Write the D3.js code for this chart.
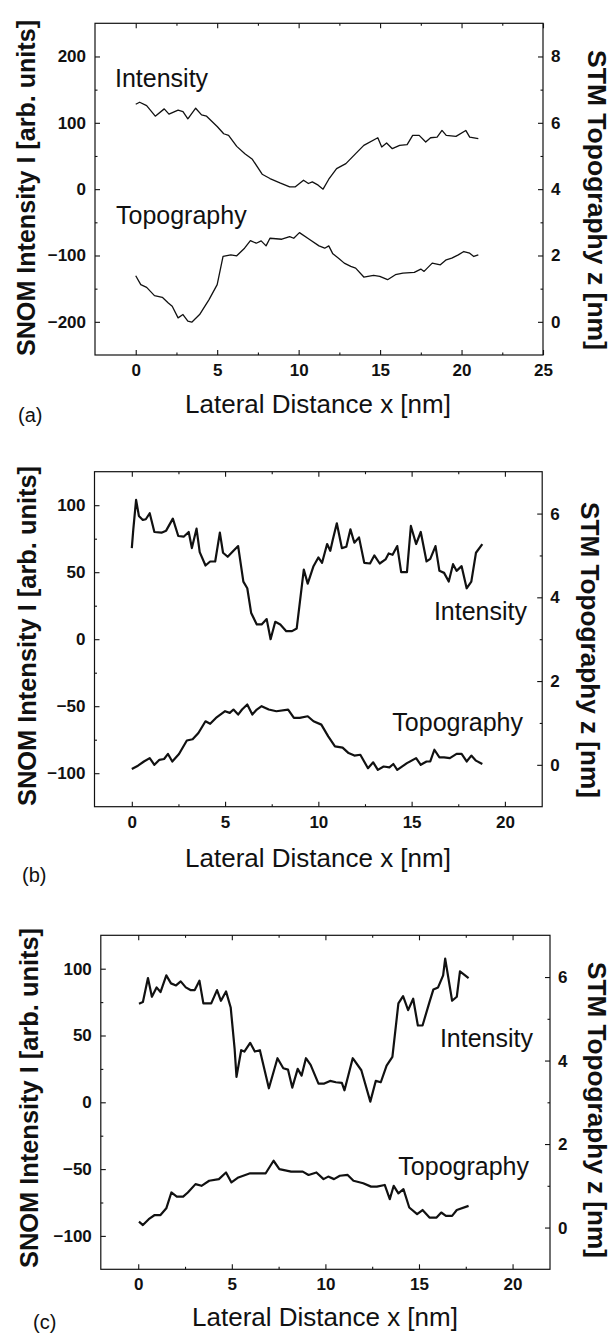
<!DOCTYPE html>
<html>
<head>
<meta charset="utf-8">
<script src="https://cdn.jsdelivr.net/npm/d3@7"></script>
<style>
  body { margin: 0; background: #fff; }
  svg { display: block; }
</style>
</head>
<body>
<div class="snom-chart"></div>
<script>
// ---- data ----
// (a)
const xA_int = [0, 0.24, 0.67, 1.2, 1.75, 2.04, 2.6, 2.9, 3.2, 3.68, 4.04, 4.35, 5, 5.4, 5.7, 6.2, 6.7, 7.16, 7.76, 8.24, 8.85, 9.45, 9.8, 10.3, 10.6, 10.84, 11.2, 11.5, 11.85, 12.33, 12.9, 13.5, 14, 14.86, 15.1, 15.4, 15.75, 16.2, 16.66, 17.0, 17.4, 17.8, 18.1, 18.5, 18.8, 19.06, 19.66, 20.26, 20.5, 21.03]
const intensityA = [128, 131, 126, 110, 121, 113, 119, 117, 106, 122, 112, 110, 94.5, 83.5, 81, 64.5, 53.5, 45, 22.5, 16, 9.5, 3.5, 3.5, 13.5, 8.5, 11, 6, 0, 15, 31, 38.5, 53.5, 66, 77.5, 63.5, 69.5, 61, 66, 67, 81, 81, 71, 77.5, 78.5, 88.5, 81, 79.5, 88.5, 78.5, 76]
const xA_topo = [0, 0.31, 0.67, 1.15, 1.63, 2.0, 2.24, 2.6, 2.9, 3.2, 3.44, 3.92, 4.5, 5.0, 5.36, 5.84, 6.2, 6.68, 7.04, 7.4, 7.7, 8.0, 8.24, 8.97, 9.45, 9.7, 10.05, 10.65, 11.25, 11.6, 11.85, 12.1, 12.45, 12.8, 13.2, 13.5, 14.0, 14.6, 14.98, 15.46, 15.94, 16.4, 17.1, 17.5, 17.7, 18.2, 18.7, 19.06, 19.4, 19.8, 20.14, 20.5, 20.75, 21.03]
const topoA = [1.39, 1.12, 1.04, 0.79, 0.74, 0.57, 0.47, 0.12, 0.22, 0.02, -0.01, 0.22, 0.67, 1.12, 1.97, 2.02, 1.99, 2.22, 2.45, 2.37, 2.44, 2.29, 2.52, 2.49, 2.57, 2.52, 2.69, 2.49, 2.29, 2.22, 2.29, 2.05, 1.92, 1.77, 1.67, 1.62, 1.35, 1.4, 1.37, 1.27, 1.42, 1.47, 1.49, 1.59, 1.52, 1.77, 1.72, 1.87, 1.92, 2.02, 2.12, 2.07, 1.97, 2.02]

// (b)
const xB_int = [0, 0.08, 0.23, 0.38, 0.59, 0.75, 0.96, 1.21, 1.59, 1.84, 2.2, 2.49, 2.78, 3.05, 3.22, 3.47, 3.64, 3.95, 4.2, 4.47, 4.72, 4.89, 5.14, 5.45, 5.7, 5.98, 6.19, 6.4, 6.7, 6.96, 7.23, 7.44, 7.69, 7.96, 8.28, 8.59, 8.84, 9.22, 9.43, 9.74, 10.0, 10.2, 10.47, 10.64, 10.78, 10.99, 11.26, 11.5, 11.72, 11.93, 12.18, 12.46, 12.77, 13.0, 13.29, 13.6, 13.77, 13.98, 14.23, 14.44, 14.75, 14.96, 15.24, 15.49, 15.8, 16.0, 16.28, 16.49, 16.74, 16.99, 17.22, 17.41, 17.68, 17.95, 18.2, 18.45, 18.79]
const intensityB = [68, 82, 104, 92, 89, 89.5, 94, 80, 79.5, 81, 90, 77, 76.5, 80, 68, 82.5, 65, 55, 58, 58, 79.5, 64.5, 61.5, 66, 69.5, 43, 38, 19.5, 11, 11, 15, 0, 13, 11, 6, 6, 8, 52, 41.5, 54.5, 61, 57, 71, 66, 74.5, 86.5, 68, 69, 82, 72, 76, 57, 56.5, 62.5, 56.5, 59.5, 64, 63, 69.5, 50, 50, 84.5, 71, 80, 58, 60, 69.5, 51, 49.5, 43, 56, 51, 54.5, 38, 43, 64.5, 71]
const xB_topo = [0, 0.33, 0.65, 0.96, 1.21, 1.48, 1.73, 1.94, 2.17, 2.53, 2.95, 3.26, 3.57, 3.95, 4.2, 4.51, 5.0, 5.25, 5.45, 5.7, 5.91, 6.19, 6.46, 6.7, 6.96, 7.34, 7.75, 8.38, 8.69, 9.0, 9.43, 9.74, 10.16, 10.53, 10.89, 11.3, 11.62, 11.93, 12.25, 12.66, 12.94, 13.19, 13.5, 13.81, 14.02, 14.23, 14.75, 15.24, 15.49, 15.8, 16.0, 16.22, 16.49, 16.74, 17.05, 17.41, 17.68, 17.95, 18.2, 18.45, 18.79]
const topoB = [-0.1, -0.02, 0.08, 0.16, 0.0, 0.12, 0.14, 0.26, 0.08, 0.26, 0.58, 0.61, 0.76, 1.04, 0.98, 1.12, 1.28, 1.24, 1.32, 1.2, 1.32, 1.44, 1.2, 1.32, 1.4, 1.32, 1.28, 1.32, 1.12, 1.12, 1.16, 1.04, 0.96, 0.68, 0.44, 0.41, 0.28, 0.22, 0.24, -0.08, 0.06, -0.12, -0.04, -0.06, 0.02, -0.12, 0.04, 0.16, 0.0, 0.08, 0.08, 0.36, 0.18, 0.18, 0.16, 0.26, 0.26, 0.08, 0.22, 0.1, 0.02]

// (c)
const xC_int = [0.04, 0.25, 0.52, 0.73, 0.98, 1.19, 1.5, 1.75, 2.02, 2.27, 2.54, 2.79, 3.02, 3.27, 3.48, 3.9, 4.21, 4.42, 4.69, 4.94, 5.15, 5.25, 5.5, 5.67, 5.98, 6.23, 6.5, 6.98, 7.44, 7.75, 8.0, 8.23, 8.52, 8.73, 8.96, 9.21, 9.63, 9.94, 10.25, 10.56, 10.88, 11.02, 11.46, 11.92, 12.4, 12.69, 12.96, 13.27, 13.58, 13.9, 14.15, 14.42, 14.69, 14.94, 15.19, 15.56, 15.77, 16.02, 16.29, 16.4, 16.77, 17.02, 17.19, 17.65]
const intensityC = [73.75, 75, 93, 79, 86, 82.5, 95, 89, 87.5, 90.5, 86, 84, 84, 91, 74, 74, 84, 76, 83, 71, 40, 19, 39, 38, 44.5, 38, 39, 10.5, 33, 25.5, 24.5, 11, 25, 20, 33, 28, 14, 14, 16, 15, 14.5, 9, 33, 24, 0.5, 16, 15, 27.5, 34, 74, 79.5, 69, 77.5, 57.5, 57.5, 75, 84.5, 86, 95, 107.5, 76, 79, 98, 93]
const xC_topo = [0.04, 0.25, 0.56, 0.88, 1.19, 1.5, 1.77, 2.06, 2.4, 2.65, 3.06, 3.38, 3.79, 4.31, 4.69, 4.98, 5.35, 5.98, 6.81, 7.23, 7.54, 8.17, 8.79, 9.1, 9.52, 9.9, 10.15, 10.46, 10.77, 11.19, 11.5, 12.02, 12.44, 12.75, 13.17, 13.44, 13.65, 13.9, 14.17, 14.48, 14.9, 15.19, 15.56, 15.94, 16.19, 16.44, 16.77, 17.02, 17.65]
const topoC = [0.14, 0.06, 0.2, 0.3, 0.3, 0.46, 0.84, 0.74, 0.74, 0.84, 1.04, 1.0, 1.12, 1.16, 1.32, 1.08, 1.2, 1.3, 1.3, 1.6, 1.4, 1.34, 1.34, 1.26, 1.32, 1.16, 1.22, 1.16, 1.24, 1.26, 1.12, 1.06, 0.98, 0.98, 1.02, 0.68, 1.0, 0.82, 0.92, 0.48, 0.32, 0.42, 0.24, 0.24, 0.36, 0.28, 0.28, 0.42, 0.52]

// Axis ticks
const xTicksA = [0, 5, 10, 15, 20, 25]
const xTicksBC = [0, 5, 10, 15, 20]
const intensityTicksA = [-200, -100, 0, 100, 200]
const intensityTicksBC = [-100, -50, 0, 50, 100]
const topoTicksA = [0, 2, 4, 6, 8]
const topoTicksBC = [0, 2, 4, 6]

// Display text
const yTitle = 'SNOM Intensity I [arb. units]'
const yRightTitle = 'STM Topography z [nm]'
const xTitle = 'Lateral Distance x [nm]'

/* Configuration */
const width = 612
const height = 1336
const font = "'Liberation Sans', Arial, Helvetica, sans-serif"

const panels = [
    {
        letter: '(a)',
        frame: { left: 95, right: 543, top: 23.3, bottom: 355 },
        xDomain: [-2.5, 25], xTicks: xTicksA, xMinor: 2.5,
        yDomain: [-250, 250], yTicks: intensityTicksA, yMinor: 50,
        zDomain: [-1, 9], zTicks: topoTicksA, zMinor: 1,
        intensity: d3.zip(xA_int, intensityA),
        topo: d3.zip(xA_topo, topoA),
        lineWidth: 1.3,
        yTitle: { x: 35, y: 188, len: 336 },
        zTitle: { x: 588, y: 200, len: 300 },
        xTitlePos: [318, 413], letterPos: [18, 422],
        intLabel: { x: 115, y: 87, anchor: 'start' },
        topoLabel: { x: 116, y: 224, anchor: 'start' },
    },
    {
        letter: '(b)',
        frame: { left: 94.5, right: 542.2, top: 471.7, bottom: 806.7 },
        xDomain: [-2, 22], xTicks: xTicksBC, xMinor: 2.5,
        yDomain: [-125, 125], yTicks: intensityTicksBC, yMinor: 25,
        zDomain: [-1, 7], zTicks: topoTicksBC, zMinor: 1,
        intensity: d3.zip(xB_int, intensityB),
        topo: d3.zip(xB_topo, topoB),
        lineWidth: 2.2,
        yTitle: { x: 36, y: 636, len: 340 },
        zTitle: { x: 581, y: 650, len: 296 },
        xTitlePos: [318, 867], letterPos: [22, 882],
        intLabel: { x: 527, y: 620, anchor: 'end' },
        topoLabel: { x: 523, y: 731, anchor: 'end' },
    },
    {
        letter: '(c)',
        frame: { left: 100.8, right: 550, top: 935.3, bottom: 1269.3 },
        xDomain: [-2, 22], xTicks: xTicksBC, xMinor: 2.5,
        yDomain: [-125, 125], yTicks: intensityTicksBC, yMinor: 25,
        zDomain: [-1, 7], zTicks: topoTicksBC, zMinor: 1,
        intensity: d3.zip(xC_int, intensityC),
        topo: d3.zip(xC_topo, topoC),
        lineWidth: 2.2,
        yTitle: { x: 38, y: 1098, len: 340 },
        zTitle: { x: 588, y: 1110, len: 296 },
        xTitlePos: [325, 1326], letterPos: [33, 1329],
        intLabel: { x: 533, y: 1047, anchor: 'end' },
        topoLabel: { x: 529, y: 1175, anchor: 'end' },
    },
]

const svg = d3
    .select('.snom-chart')
    .append('svg')
    .attr('width', width)
    .attr('height', height)
    .attr('viewBox', [0, 0, width, height])
    .style('font-family', font)

// minor tick values strictly inside a domain
function minorTicks(domain, step) {
    return d3.range(Math.ceil(domain[0] / step) * step, domain[1] + 1e-9, step)
        .filter(v => v > domain[0] + 1e-9 && v < domain[1] - 1e-9)
}

function styleAxis(g) {
    g.select('.domain').remove()
    g.selectAll('line').attr('stroke', '#111').attr('stroke-width', 1.1)
    g.selectAll('text')
        .attr('fill', '#111')
        .attr('font-family', font)
        .attr('font-size', 17)
        .attr('font-weight', 700)
}

function drawPanel(p) {
    const f = p.frame
    const x = d3.scaleLinear(p.xDomain, [f.left, f.right])
    const y = d3.scaleLinear(p.yDomain, [f.bottom, f.top])
    const z = d3.scaleLinear(p.zDomain, [f.bottom, f.top])
    const g = svg.append('g')

    // axes, ticks pointing inward
    const axes = [
        [d3.axisBottom(x), p.xTicks, p.xMinor, p.xDomain, `translate(0,${f.bottom})`, 9, true],
        [d3.axisTop(x), p.xTicks, p.xMinor, p.xDomain, `translate(0,${f.top})`, 3, false],
        [d3.axisLeft(y), p.yTicks, p.yMinor, p.yDomain, `translate(${f.left},0)`, 9, true],
        [d3.axisRight(z), p.zTicks, p.zMinor, p.zDomain, `translate(${f.right},0)`, 8, true],
    ]
    axes.forEach(([axis, major, step, domain, tr, pad, labels]) => {
        g.append('g')
            .attr('transform', tr)
            .call(axis.tickValues(minorTicks(domain, step).filter(v => !major.includes(v)))
                .tickSize(-2.5).tickFormat(''))
            .call(styleAxis)
        g.append('g')
            .attr('transform', tr)
            .call(axis.tickValues(major).tickSize(-5).tickPadding(pad)
                .tickFormat(labels ? d3.format('d') : ''))
            .call(styleAxis)
    })

    // frame
    g.append('rect')
        .attr('x', f.left)
        .attr('y', f.top)
        .attr('width', f.right - f.left)
        .attr('height', f.bottom - f.top)
        .attr('fill', 'none')
        .attr('stroke', '#111')
        .attr('stroke-width', 1.2)

    // curves
    const lineI = d3.line().x(d => x(d[0])).y(d => y(d[1]))
    const lineZ = d3.line().x(d => x(d[0])).y(d => z(d[1]))
    g.append('path')
        .datum(p.intensity)
        .attr('fill', 'none')
        .attr('stroke', '#111')
        .attr('stroke-width', p.lineWidth)
        .attr('stroke-linejoin', 'round')
        .attr('d', lineI)
    g.append('path')
        .datum(p.topo)
        .attr('fill', 'none')
        .attr('stroke', '#111')
        .attr('stroke-width', p.lineWidth)
        .attr('stroke-linejoin', 'round')
        .attr('d', lineZ)

    // curve names
    ;[[p.intLabel, 'Intensity'], [p.topoLabel, 'Topography']].forEach(([l, t]) => {
        g.append('text')
            .attr('x', l.x)
            .attr('y', l.y)
            .attr('text-anchor', l.anchor)
            .attr('font-size', 25)
            .attr('fill', '#111')
            .text(t)
    })

    // axis titles (bold, slightly condensed like the scan)
    g.append('text')
        .attr('transform', `translate(${p.yTitle.x},${p.yTitle.y}) rotate(-90)`)
        .attr('text-anchor', 'middle')
        .attr('font-size', 26)
        .attr('font-weight', 700)
        .attr('textLength', p.yTitle.len)
        .attr('lengthAdjust', 'spacingAndGlyphs')
        .attr('fill', '#111')
        .text(yTitle)
    g.append('text')
        .attr('transform', `translate(${p.zTitle.x},${p.zTitle.y}) rotate(90)`)
        .attr('text-anchor', 'middle')
        .attr('font-size', 26)
        .attr('font-weight', 700)
        .attr('textLength', p.zTitle.len)
        .attr('lengthAdjust', 'spacingAndGlyphs')
        .attr('fill', '#111')
        .text(yRightTitle)
    g.append('text')
        .attr('x', p.xTitlePos[0])
        .attr('y', p.xTitlePos[1])
        .attr('text-anchor', 'middle')
        .attr('font-size', 26)
        .attr('fill', '#111')
        .text(xTitle)
    g.append('text')
        .attr('x', p.letterPos[0])
        .attr('y', p.letterPos[1])
        .attr('font-size', 20)
        .attr('fill', '#111')
        .text(p.letter)
}

panels.forEach(drawPanel)
</script>
</body>
</html>
